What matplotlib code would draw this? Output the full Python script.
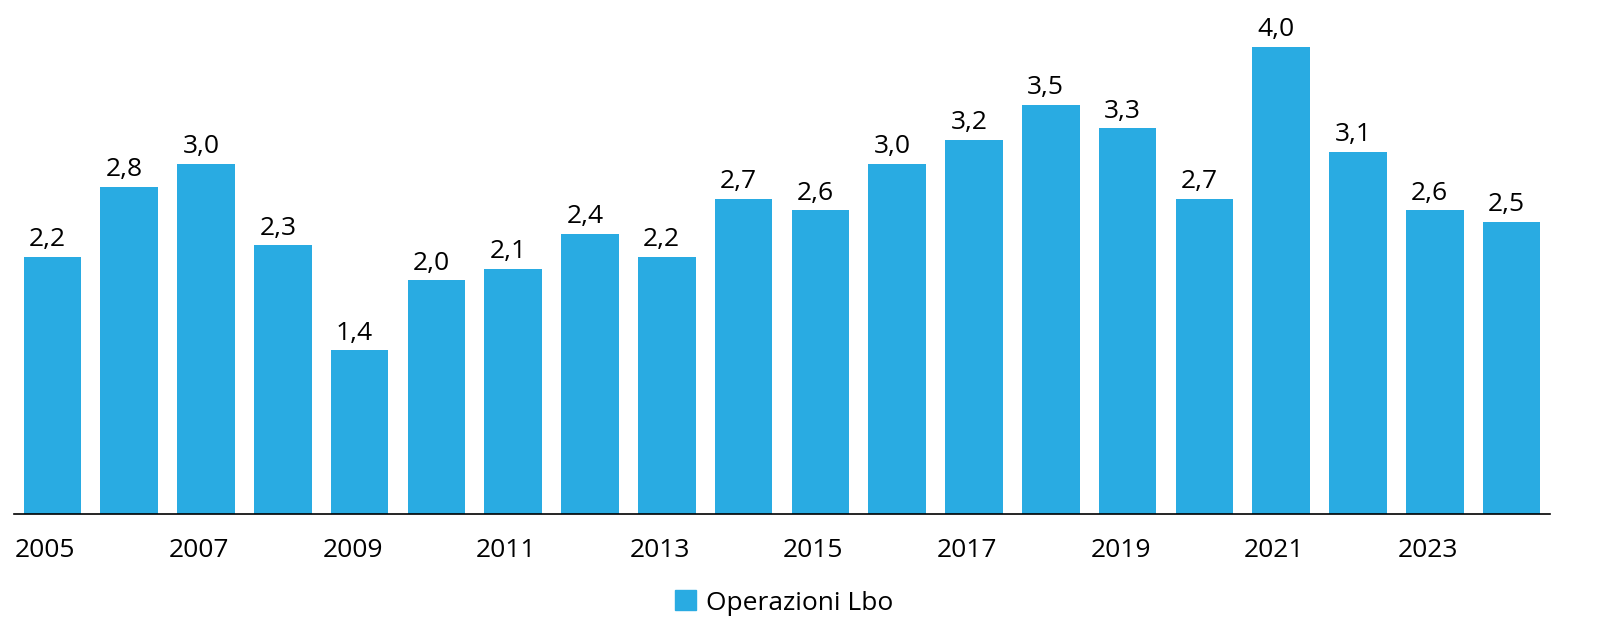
import matplotlib
matplotlib.use('Agg')
import matplotlib.pyplot as plt
import matplotlib.transforms as mtransforms
import numpy as np
from matplotlib.patches import Patch

years = list(range(2005, 2025))
values = [2.2, 2.8, 3.0, 2.3, 1.4, 2.0, 2.1, 2.4, 2.2, 2.7,
          2.6, 3.0, 3.2, 3.5, 3.3, 2.7, 4.0, 3.1, 2.6, 2.5]
tick_years = years[::2]
series_name = 'Operazioni Lbo'

color = '#29abe2'
plt.rcParams['font.family'] = ['Open Sans', 'DejaVu Sans']

fig = plt.figure(figsize=(16, 6.4), dpi=100)
ax = fig.add_axes([0.00875, 0.197, 0.96, 0.803])

x = np.arange(len(years))
ax.bar(x, values, width=0.75, color=color)

# labels sit a touch left of the bar centre in the original
shift = mtransforms.ScaledTranslation(-5 / 100, 0, fig.dpi_scale_trans)
for xi, v in zip(x, values):
    ax.text(xi, v + 0.04, f'{v:.1f}'.replace('.', ','), ha='center', va='bottom',
            fontsize=19, transform=ax.transData + shift)

ax.set_xlim(-0.5, len(years) - 0.5)
ax.set_ylim(0, 4.4)
ax.set_yticks([])
ax.set_xticks([years.index(y) for y in tick_years])
ax.set_xticklabels([str(y) for y in tick_years], fontsize=19)
ax.tick_params(axis='x', length=0, pad=17)
tshift = mtransforms.ScaledTranslation(-7 / 100, 0, fig.dpi_scale_trans)
for lbl in ax.get_xticklabels():
    lbl.set_transform(lbl.get_transform() + tshift)
for s in ['top', 'right', 'left']:
    ax.spines[s].set_visible(False)
ax.spines['bottom'].set_linewidth(1.2)

fig.legend(handles=[Patch(color=color, label=series_name)], loc='center',
           bbox_to_anchor=(0.49, 0.058), frameon=False, fontsize=19,
           handlelength=0.8, handleheight=0.8, handletextpad=0.4)

fig.savefig('out.png', dpi=100)
